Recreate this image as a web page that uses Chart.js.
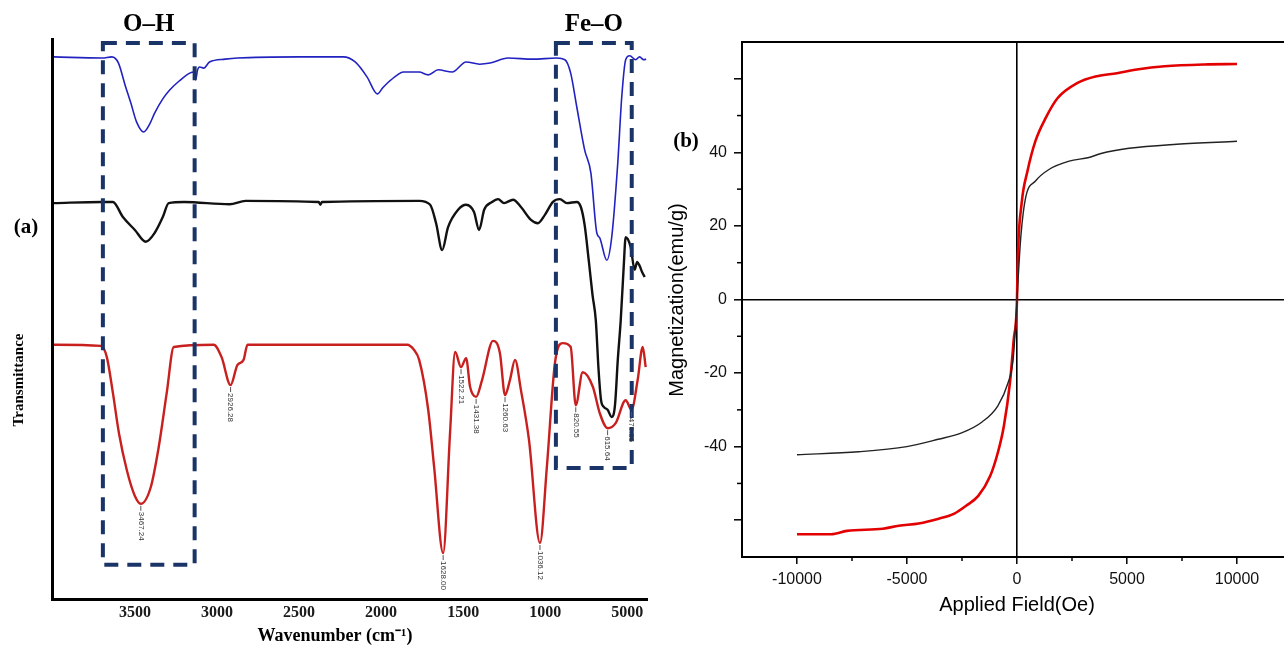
<!DOCTYPE html>
<html>
<head>
<meta charset="utf-8">
<script src="https://cdn.jsdelivr.net/npm/chart.js@4.4.0/dist/chart.umd.min.js"></script>
<style>
html, body { margin: 0; padding: 0; background: #fff; overflow: hidden; width: 1284px; height: 646px; }
#ftir { position: absolute; left: 0; top: 0; }
#mag { position: absolute; left: 660px; top: 0; }
</style>
</head>
<body>
<canvas id="ftir" width="660" height="646"></canvas>
<canvas id="mag" width="640" height="646"></canvas>
<script>
// ---- (a) FTIR spectra, wavenumber (cm-1) vs transmittance (a.u., stacked) ----
const blueWavenumber = [3993, 3700, 3640, 3600, 3560, 3525, 3490, 3446, 3410, 3379, 3330, 3288, 3230, 3166, 3140, 3130, 3118, 3105, 3081, 3045, 2950, 2875, 2500, 2230, 2158, 2085, 2023, 1990, 1963, 1900, 1865, 1768, 1713, 1652, 1567, 1482, 1400, 1336, 1227, 1075, 930, 880, 845, 808, 760, 722, 686, 668, 625, 595, 558, 534, 510, 485, 449, 425, 400, 385];
const blueT = [96.8, 96.6, 96.8, 95.7, 91.8, 88.6, 85.2, 83.4, 84.8, 86.8, 89.3, 90.9, 92.5, 93.9, 94.1, 92.7, 94.5, 95.0, 94.8, 95.9, 96.4, 96.6, 96.8, 96.8, 95.9, 93.2, 90.2, 91.3, 92.1, 93.6, 94.1, 94.1, 93.6, 94.5, 94.1, 95.9, 95.5, 95.7, 96.6, 96.4, 96.6, 96.3, 93.9, 87.9, 80.2, 76.1, 65.4, 64.5, 60.5, 64.6, 77.9, 89.6, 96.3, 97.0, 96.3, 96.8, 96.3, 96.4];

const blackWavenumber = [3993, 3700, 3634, 3573, 3500, 3434, 3379, 3330, 3294, 3200, 2923, 2826, 2380, 2370, 2360, 1768, 1701, 1665, 1628, 1592, 1531, 1482, 1434, 1403, 1372, 1324, 1287, 1251, 1196, 1148, 1087, 1045, 1002, 953, 911, 868, 808, 783, 760, 735, 712, 692, 675, 660, 643, 620, 595, 575, 558, 540, 522, 510, 480, 455, 440, 425, 410, 394];
const blackT = [70.7, 70.9, 70.9, 68.2, 65.9, 63.8, 65.4, 68.2, 70.7, 70.9, 70.5, 71.1, 70.9, 70.4, 70.9, 71.1, 70.4, 67.1, 62.3, 66.4, 69.5, 70.4, 69.1, 65.9, 69.5, 70.9, 71.4, 70.7, 71.3, 70.0, 67.7, 67.1, 68.6, 70.9, 71.4, 70.7, 70.9, 70.0, 66.8, 60.5, 54.3, 49.8, 40.9, 35.5, 34.3, 33.8, 32.5, 34.6, 42.7, 49.8, 59.3, 64.6, 62.9, 58.8, 60.2, 59.5, 58.4, 57.5];

const redWavenumber = [3993, 3707, 3671, 3634, 3597, 3549, 3500, 3464, 3403, 3355, 3306, 3263, 3020, 2972, 2917, 2875, 2838, 2814, 1841, 1800, 1768, 1713, 1677, 1622, 1580, 1549, 1513, 1482, 1458, 1421, 1385, 1318, 1276, 1245, 1215, 1184, 1148, 1099, 1032, 990, 941, 893, 845, 814, 772, 710, 668, 620, 571, 510, 474, 437, 406, 388];
const redT = [45.4, 45.2, 43.2, 36.8, 29.6, 23.0, 18.4, 17.0, 20.0, 27.1, 36.8, 45.0, 45.4, 43.2, 38.2, 41.8, 42.7, 45.4, 45.4, 44.5, 42.7, 33.8, 23.6, 8.2, 29.6, 44.1, 41.4, 43.0, 37.9, 36.1, 39.1, 46.1, 43.9, 36.4, 39.1, 42.7, 37.3, 28.4, 10.0, 23.6, 42.1, 45.7, 45.0, 34.6, 40.5, 37.9, 33.2, 30.5, 31.4, 35.5, 33.8, 39.1, 45.0, 41.4];

const peakLabels = ['3467.24', '2926.28', '1628.00', '1522.21', '1431.38', '1260.63', '1036.12', '820.55', '615.64', '476.35'];
const peakWavenumber = [3464, 2917, 1622, 1513, 1421, 1245, 1032, 814, 620, 474];
const peakT = [17.0, 38.2, 8.2, 41.4, 36.1, 36.4, 10.0, 34.6, 30.5, 33.8];

const ftirTicks = [3500, 3000, 2500, 2000, 1500, 1000, 500];
const ftirTickLabels = ['3500', '3000', '2500', '2000', '1500', '1000', '5000'];

// highlighted bands (wavenumber from/to, transmittance top/bottom)
const bandNames = ['O\u2013H', 'Fe\u2013O'];
const bandFrom = [3695, 935];
const bandTo = [3136, 473];
const bandTop = [99.3, 99.3];
const bandBottom = [6.1, 23.4];

// ---- (b) hysteresis loops ----
const redField = [-10000, -8450, -7730, -6100, -5370, -4470, -3560, -2850, -2300, -1760, -1220, -870, -600, -320, -150, 0, 30, 210, 480, 840, 1300, 1840, 2730, 3640, 4540, 5450, 6710, 8520, 10000];
const redM = [-63.8, -63.8, -62.9, -62.3, -61.5, -60.9, -59.6, -58.2, -56.0, -53.4, -48.0, -41.6, -34.5, -22.6, -11.0, 0, 9.9, 26.1, 35.0, 43.1, 49.3, 54.7, 58.8, 60.7, 61.5, 62.5, 63.4, 63.9, 64.0];

const blackField = [-10000, -7200, -5010, -3580, -2490, -1590, -870, -410, -180, -50, 0, 50, 180, 390, 840, 1470, 2370, 3270, 3820, 5090, 7260, 10000];
const blackM = [-42.2, -41.4, -40.0, -38.0, -36.2, -33.3, -28.9, -22.7, -16.5, -5.5, 0, 5.5, 17.5, 27.6, 32.2, 35.4, 37.6, 38.6, 39.7, 41.1, 42.2, 43.0];

const fieldTicks = [-10000, -5000, 0, 5000, 10000];
const fieldMinorTicks = [-7500, -2500, 2500, 7500];
const magTicks = [-60, -40, -20, 0, 20, 40, 60];
const magTickLabels = ['', '-40', '-20', '0', '20', '40', ''];
const magMinorTicks = [-50, -30, -10, 10, 30, 50];

function toPoints(xs, ys) {
    return xs.map((x, i) => ({ x: x, y: ys[i] }));
}

const serif = '"Liberation Serif", "Times New Roman", serif';
const sans = '"Liberation Sans", Arial, sans-serif';

const ftirDecor = {
    id: 'ftirDecor',
    afterDraw(chart) {
        const { ctx, chartArea } = chart;
        const x = chart.scales.x;
        const y = chart.scales.y;
        ctx.save();

        // dashed boxes around the bands
        ctx.strokeStyle = '#1b3468';
        ctx.lineWidth = 4;
        ctx.setLineDash([14, 9]);
        bandNames.forEach((name, i) => {
            const l = x.getPixelForValue(bandFrom[i]);
            const r = x.getPixelForValue(bandTo[i]);
            const t = y.getPixelForValue(bandTop[i]);
            const b = y.getPixelForValue(bandBottom[i]);
            ctx.strokeRect(l, t, r - l, b - t);
        });
        ctx.setLineDash([]);

        ctx.fillStyle = '#000';
        ctx.font = 'bold 25px ' + serif;
        ctx.textAlign = 'center';
        ctx.textBaseline = 'middle';
        bandNames.forEach((name, i) => {
            const cx = (x.getPixelForValue(bandFrom[i]) + x.getPixelForValue(bandTo[i])) / 2;
            ctx.fillText(name, cx, chartArea.top - 14);
        });

        // peak labels on the red spectrum
        ctx.strokeStyle = '#555';
        ctx.lineWidth = 1;
        ctx.fillStyle = '#333';
        ctx.font = '8px ' + sans;
        ctx.textAlign = 'left';
        peakLabels.forEach((txt, i) => {
            const px = x.getPixelForValue(peakWavenumber[i]);
            const py = y.getPixelForValue(peakT[i]);
            ctx.beginPath();
            ctx.moveTo(px, py + 2);
            ctx.lineTo(px, py + 7);
            ctx.stroke();
            ctx.save();
            ctx.translate(px, py + 8);
            ctx.rotate(Math.PI / 2);
            ctx.fillText(txt, 0, 0);
            ctx.restore();
        });

        // titles
        ctx.fillStyle = '#000';
        ctx.textAlign = 'center';
        ctx.font = 'bold 18px ' + serif;
        ctx.fillText('Wavenumber (cm\u207B\u00B9)', 335, 636);
        ctx.font = 'bold 21px ' + serif;
        ctx.fillText('(a)', 26, 228);
        ctx.save();
        ctx.translate(19, 380);
        ctx.rotate(-Math.PI / 2);
        ctx.font = 'bold 15px ' + serif;
        ctx.fillText('Transmittance', 0, 0);
        ctx.restore();

        ctx.restore();
    }
};

const ftirChart = new Chart(document.getElementById('ftir'), {
    type: 'line',
    data: {
        datasets: [
            { data: toPoints(blueWavenumber, blueT), borderColor: '#2222c0', borderWidth: 1.6 },
            { data: toPoints(blackWavenumber, blackT), borderColor: '#111111', borderWidth: 2.4 },
            { data: toPoints(redWavenumber, redT), borderColor: '#c8201e', borderWidth: 2.4 }
        ]
    },
    options: {
        responsive: false,
        animation: false,
        elements: {
            point: { radius: 0 },
            line: { cubicInterpolationMode: 'monotone' }
        },
        plugins: { legend: { display: false }, tooltip: { enabled: false } },
        layout: { padding: { top: 39, right: 13, left: 0, bottom: 0 } },
        scales: {
            x: {
                type: 'linear',
                reverse: true,
                min: 380,
                max: 4005,
                afterBuildTicks: s => { s.ticks = ftirTicks.map(v => ({ value: v })); },
                afterFit: s => { s.height = 47; },
                grid: { display: false, drawTicks: false },
                border: { color: '#000', width: 3 },
                ticks: {
                    font: { family: serif, size: 16, weight: 'bold' },
                    color: '#1a1a1a',
                    padding: 4,
                    maxRotation: 0,
                    autoSkip: false,
                    callback: (v) => ftirTickLabels[ftirTicks.indexOf(v)]
                }
            },
            y: {
                min: 0,
                max: 100,
                afterFit: s => { s.width = 52; },
                grid: { display: false, drawTicks: false },
                border: { color: '#000', width: 3 },
                ticks: { display: false }
            }
        }
    },
    plugins: [ftirDecor]
});

const magDecor = {
    id: 'magDecor',
    afterDraw(chart) {
        const { ctx, chartArea } = chart;
        const x = chart.scales.x;
        const y = chart.scales.y;
        ctx.save();
        ctx.strokeStyle = '#000';
        ctx.lineWidth = 2;
        // top frame line
        ctx.beginPath();
        ctx.moveTo(chartArea.left, chartArea.top);
        ctx.lineTo(chartArea.right, chartArea.top);
        ctx.stroke();
        // minor ticks
        ctx.lineWidth = 1.5;
        fieldMinorTicks.forEach(v => {
            const px = x.getPixelForValue(v);
            ctx.beginPath();
            ctx.moveTo(px, chartArea.bottom);
            ctx.lineTo(px, chartArea.bottom + 4);
            ctx.stroke();
        });
        magMinorTicks.forEach(v => {
            const py = y.getPixelForValue(v);
            ctx.beginPath();
            ctx.moveTo(chartArea.left, py);
            ctx.lineTo(chartArea.left - 5, py);
            ctx.stroke();
        });
        // titles
        ctx.fillStyle = '#000';
        ctx.textAlign = 'center';
        ctx.textBaseline = 'middle';
        ctx.font = '20px ' + sans;
        ctx.fillText('Applied Field(Oe)', x.getPixelForValue(0), 605);
        ctx.save();
        ctx.translate(17, 300);
        ctx.rotate(-Math.PI / 2);
        ctx.fillText('Magnetization(emu/g)', 0, 0);
        ctx.restore();
        ctx.font = 'bold 21px ' + serif;
        ctx.fillText('(b)', 26, 142);
        ctx.restore();
    }
};

const magChart = new Chart(document.getElementById('mag'), {
    type: 'line',
    data: {
        datasets: [
            { data: toPoints(blackField, blackM), borderColor: '#222222', borderWidth: 1.4 },
            { data: toPoints(redField, redM), borderColor: '#e30000', borderWidth: 2.6 }
        ]
    },
    options: {
        responsive: false,
        animation: false,
        elements: {
            point: { radius: 0 },
            line: { cubicInterpolationMode: 'monotone' }
        },
        plugins: { legend: { display: false }, tooltip: { enabled: false } },
        layout: { padding: { top: 42, right: 8, left: 0, bottom: 0 } },
        scales: {
            x: {
                type: 'linear',
                min: -12500,
                max: 12500,
                afterBuildTicks: s => { s.ticks = fieldTicks.map(v => ({ value: v })); },
                afterFit: s => { s.height = 89; },
                grid: {
                    color: c => (c.tick && c.tick.value === 0) ? '#000' : 'rgba(0,0,0,0)',
                    lineWidth: 1.6,
                    tickColor: '#000',
                    tickLength: 7,
                    tickWidth: 1.5
                },
                border: { color: '#000', width: 2 },
                ticks: {
                    font: { family: sans, size: 16 },
                    color: '#111',
                    padding: 6,
                    maxRotation: 0,
                    autoSkip: false,
                    callback: (v) => String(v)
                }
            },
            y: {
                min: -70,
                max: 70,
                afterBuildTicks: s => { s.ticks = magTicks.map(v => ({ value: v })); },
                afterFit: s => { s.width = 82; },
                grid: {
                    color: c => (c.tick && c.tick.value === 0) ? '#000' : 'rgba(0,0,0,0)',
                    lineWidth: 1.6,
                    tickColor: '#000',
                    tickLength: 8,
                    tickWidth: 1.5
                },
                border: { color: '#000', width: 2 },
                ticks: {
                    font: { family: sans, size: 16 },
                    color: '#111',
                    padding: 7,
                    autoSkip: false,
                    callback: (v) => magTickLabels[magTicks.indexOf(v)]
                }
            }
        }
    },
    plugins: [magDecor]
});
</script>
</body>
</html>
